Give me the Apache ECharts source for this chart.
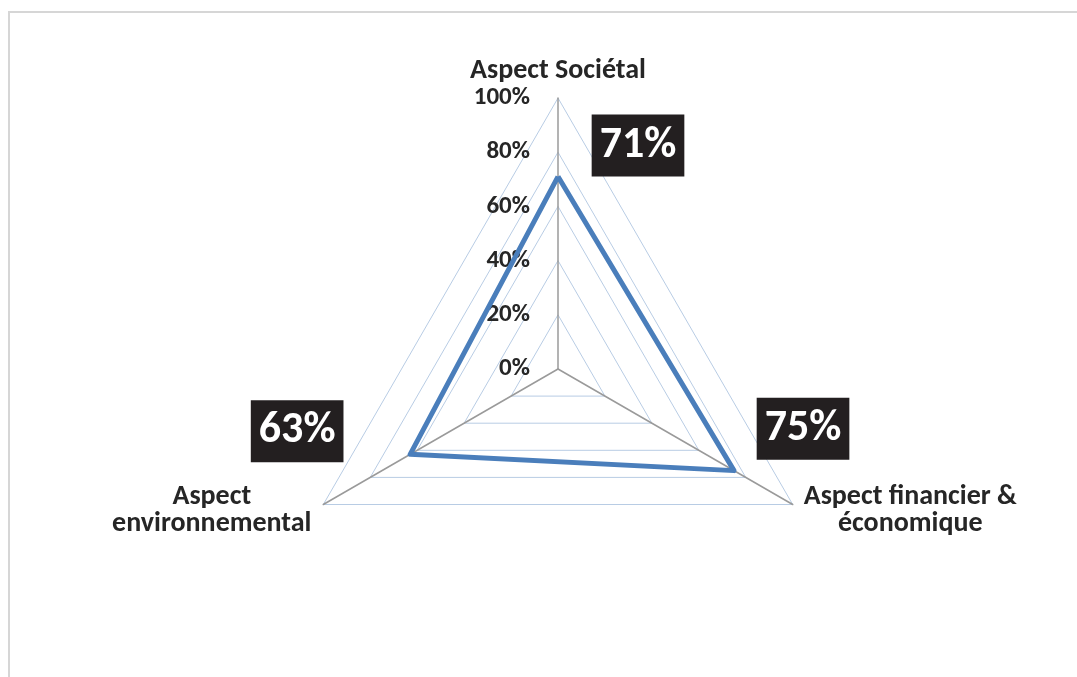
<!DOCTYPE html>
<html>
<head>
<meta charset="utf-8">
<script src="https://cdn.jsdelivr.net/npm/echarts@6/dist/echarts.min.js"></script>
<style>
  html, body { margin: 0; padding: 0; background: #ffffff; overflow: hidden; }
  #frame { position: absolute; left: 8px; top: 11px; width: 1200px; height: 800px;
           border-left: 2px solid #d6d6d6; border-top: 2px solid #d6d6d6; }
  #chart { position: absolute; left: 0; top: 0; width: 1077px; height: 677px; }
</style>
</head>
<body>
<div id="frame"></div>
<div id="chart"></div>
<script>
// ---- data ----
// radar order (counter-clockwise from top)
const indicatorNames = ['Aspect Sociétal', 'Aspect environnemental', 'Aspect financier & économique'];
const values = [71, 63, 75];
const tickValues = [0, 20, 40, 60, 80, 100];

const FONT = 'Carlito, Lato, sans-serif';
const CX = 558, CY = 369, R = 271;

const nameLines = {
  'Aspect Sociétal': '{t|Aspect Sociétal}',
  'Aspect environnemental': '{l|Aspect}\n{l|environnemental}',
  'Aspect financier & économique': '{r|Aspect financier &}\n{r|économique}'
};

// label placement offsets (style only)
const labelOffsets = {
  'Aspect Sociétal': [80, -31],
  'Aspect environnemental': [-113, -23],
  'Aspect financier & économique': [69, -42]
};

// polar (clockwise) order for label layer
const polarCats = [indicatorNames[0], indicatorNames[2], indicatorNames[1]];
const polarVals = [values[0], values[2], values[1]];

const chart = echarts.init(document.getElementById('chart'), null, { renderer: 'canvas' });

const nameStyle = { fontFamily: FONT, fontWeight: 'bold', fontSize: 28, lineHeight: 27, color: '#262626' };

const option = {
  animation: false,
  backgroundColor: 'transparent',
  textStyle: { fontFamily: FONT },
  radar: {
    center: [CX, CY],
    radius: R,
    startAngle: 90,
    splitNumber: 5,
    shape: 'polygon',
    nameGap: 11,
    indicator: indicatorNames.map(n => ({ name: n, min: 0, max: 100 })),
    axisName: {
      color: '#262626',
      fontFamily: FONT,
      fontWeight: 'bold',
      fontSize: 28,
      formatter: function (name) { return nameLines[name]; },
      rich: {
        t: Object.assign({}, nameStyle, { padding: [0, 0, 5, 0] }),
        l: Object.assign({}, nameStyle, { width: 204, align: 'center' }),
        r: Object.assign({}, nameStyle, { width: 216, align: 'center' })
      }
    },
    axisLine: { show: true, lineStyle: { color: '#9a9a9a', width: 1.5 } },
    axisTick: { show: false },
    axisLabel: { show: false },
    splitLine: { show: true, lineStyle: { color: '#b8cce4', width: 1 } },
    splitArea: { show: false }
  },
  polar: { center: [CX, CY], radius: R },
  angleAxis: {
    type: 'category', data: polarCats, boundaryGap: false, startAngle: 90, clockwise: true,
    axisLine: { show: false }, axisTick: { show: false }, axisLabel: { show: false }, splitLine: { show: false }
  },
  radiusAxis: {
    min: 0, max: 100,
    axisLine: { show: false }, axisTick: { show: false }, axisLabel: { show: false }, splitLine: { show: false }
  },
  grid: { left: CX, top: CY - R, width: 1, height: R },
  xAxis: { type: 'value', show: false, min: 0, max: 1 },
  yAxis: {
    type: 'value', min: tickValues[0], max: tickValues[tickValues.length - 1], interval: 20,
    axisLine: { show: false }, axisTick: { show: false }, splitLine: { show: false },
    axisLabel: {
      margin: 28, color: '#262626', fontFamily: FONT, fontWeight: 'bold', fontSize: 25,
      formatter: '{value}%'
    }
  },
  series: [
    {
      type: 'radar',
      symbol: 'none',
      lineStyle: { color: '#4a7ebb', width: 5 },
      itemStyle: { color: '#4a7ebb' },
      data: [{ value: values }],
      z: 3
    },
    {
      type: 'scatter',
      coordinateSystem: 'polar',
      symbol: 'circle',
      symbolSize: 1,
      itemStyle: { color: 'rgba(0,0,0,0)', opacity: 1 },
      silent: true,
      z: 5,
      label: {
        show: true,
        opacity: 1,
        position: 'inside',
        formatter: function (p) { return p.value[0] + '%'; },
        backgroundColor: '#231f20',
        color: '#ffffff',
        fontFamily: FONT,
        fontWeight: 'bold',
        fontSize: 44,
        lineHeight: 46,
        padding: [8, 8, 8, 8]
      },
      data: polarCats.map((c, i) => ({ value: [polarVals[i], i], label: { offset: labelOffsets[c] } }))
    }
  ]
};
chart.setOption(option);
</script>
</body>
</html>
